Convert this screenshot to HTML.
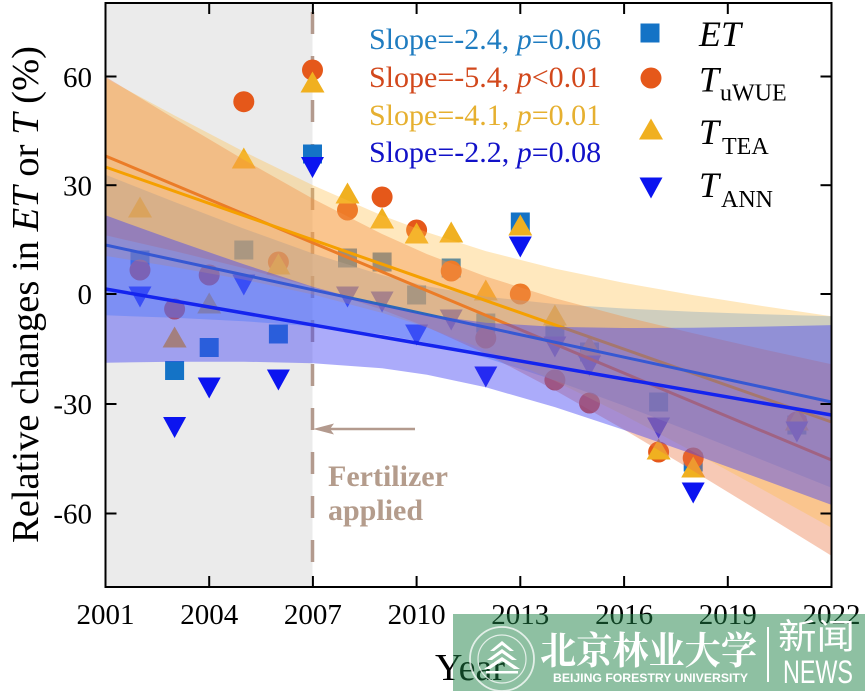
<!DOCTYPE html>
<html>
<head>
<meta charset="utf-8">
<style>
html,body{margin:0;padding:0;background:#ffffff;}
svg{display:block;}
.serif{font-family:"Liberation Serif","Noto Serif CJK SC",serif;}
</style>
</head>
<body>
<svg xmlns="http://www.w3.org/2000/svg" width="865" height="692" viewBox="0 0 865 692">
<defs>
<rect id="sq" x="-9.5" y="-9.5" width="19" height="19" fill="#1473c6"/>
<circle id="ci" r="10.5" fill="#e5581a"/>
<polygon id="tu" points="0,-10.5 -12,10.5 12,10.5" fill="#f0b020"/>
<polygon id="td" points="-11.5,-10.5 11.5,-10.5 0,10.5" fill="#0b14f0"/>
</defs>
<rect x="0" y="0" width="865" height="692" fill="#ffffff"/>
<!-- gray pre-fertilizer region -->
<rect x="105.5" y="3" width="207" height="584" fill="#ebebeb"/>
<!-- dashed line -->
<line x1="312.5" y1="12" x2="312.5" y2="562" stroke="#b39a8e" stroke-width="3.5" stroke-dasharray="22 22"/>
<!-- arrow -->
<line x1="415" y1="429" x2="325" y2="429" stroke="#b39a8e" stroke-width="2.5"/>
<polygon points="313,429 334,423.5 330,429 334,434.5" fill="#b39a8e"/>
<g class="serif">
<text x="328" y="486" font-size="30" font-weight="bold" fill="#b49c8c">Fertilizer</text>
<text x="328" y="520" font-size="30" font-weight="bold" fill="#b49c8c">applied</text>
</g>

<!-- markers: ET squares -->
<g>
<use href="#sq" x="140" y="260"/><use href="#sq" x="174.6" y="370.5"/><use href="#sq" x="209.2" y="347.5"/>
<use href="#sq" x="243.8" y="250"/><use href="#sq" x="278.4" y="334"/><use href="#sq" x="312.5" y="154"/>
<use href="#sq" x="347.5" y="258"/><use href="#sq" x="382.1" y="262"/><use href="#sq" x="416.6" y="295"/>
<use href="#sq" x="451.2" y="268"/><use href="#sq" x="485.8" y="323"/><use href="#sq" x="520.3" y="222"/>
<use href="#sq" x="554.9" y="330"/><use href="#sq" x="589.5" y="352"/><use href="#sq" x="658.6" y="402"/>
<use href="#sq" x="693.2" y="462"/><use href="#sq" x="796.9" y="425"/>
</g>
<!-- uWUE circles -->
<g>
<use href="#ci" x="140" y="270"/><use href="#ci" x="174.6" y="309"/><use href="#ci" x="209.2" y="275"/>
<use href="#ci" x="243.8" y="101.7"/><use href="#ci" x="278.4" y="262"/><use href="#ci" x="312.5" y="70"/>
<use href="#ci" x="347.5" y="210"/><use href="#ci" x="382.1" y="197"/><use href="#ci" x="416.6" y="230"/>
<use href="#ci" x="451.2" y="271"/><use href="#ci" x="485.8" y="338"/><use href="#ci" x="520.3" y="294"/>
<use href="#ci" x="554.9" y="380"/><use href="#ci" x="589.5" y="403"/><use href="#ci" x="658.6" y="452"/>
<use href="#ci" x="693.2" y="458"/><use href="#ci" x="796.9" y="422"/>
</g>
<!-- TEA triangles -->
<g>
<use href="#tu" x="140" y="207"/><use href="#tu" x="174.6" y="337"/><use href="#tu" x="209.2" y="303"/>
<use href="#tu" x="243.8" y="158"/><use href="#tu" x="278.4" y="264"/><use href="#tu" x="312.5" y="82"/>
<use href="#tu" x="347.5" y="193"/><use href="#tu" x="382.1" y="218"/><use href="#tu" x="416.6" y="233"/>
<use href="#tu" x="451.2" y="232"/><use href="#tu" x="485.8" y="290"/><use href="#tu" x="520.3" y="225"/>
<use href="#tu" x="554.9" y="315"/><use href="#tu" x="589.5" y="346"/><use href="#tu" x="658.6" y="449"/>
<use href="#tu" x="693.2" y="467"/><use href="#tu" x="796.9" y="420"/>
</g>
<!-- ANN down triangles -->
<g>
<use href="#td" x="140" y="297"/><use href="#td" x="174.6" y="427.5"/><use href="#td" x="209.2" y="388"/>
<use href="#td" x="243.8" y="285"/><use href="#td" x="278.4" y="380"/><use href="#td" x="312.5" y="167.5"/>
<use href="#td" x="347.5" y="297"/><use href="#td" x="382.1" y="302"/><use href="#td" x="416.6" y="335"/>
<use href="#td" x="451.2" y="320"/><use href="#td" x="485.8" y="377"/><use href="#td" x="520.3" y="247"/>
<use href="#td" x="554.9" y="347"/><use href="#td" x="589.5" y="366"/><use href="#td" x="658.6" y="428"/>
<use href="#td" x="693.2" y="493"/><use href="#td" x="796.9" y="432"/>
</g>

<!-- ET band -->
<polygon fill="#5da6ff" fill-opacity="0.45" points="105.5,174.7 174.6,202.0 243.8,228.6 312.9,253.5 382.1,275.1 427.0,286.2 485.8,296.6 554.9,304.0 624.1,308.5 693.2,311.7 762.3,314.2 831.5,316.2 831.5,487.8 762.3,460.0 693.2,432.5 624.1,405.7 554.9,380.4 485.8,357.8 427.0,342.8 382.1,334.5 312.9,326.3 243.8,321.2 174.6,317.8 105.5,315.3"/>
<!-- uWUE band + line -->
<polygon fill="#eb7846" fill-opacity="0.4" points="105.5,76.7 174.6,118.7 243.8,159.7 312.9,198.7 382.1,234.0 427.0,254.1 485.8,276.5 554.9,298.2 624.1,316.6 693.2,333.3 762.3,349.1 831.5,364.2 831.5,555.8 762.3,513.1 693.2,470.9 624.1,429.6 554.9,390.2 485.8,353.9 427.0,327.1 382.1,309.6 312.9,287.1 243.8,268.1 174.6,251.1 105.5,235.3"/>
<line x1="105.5" y1="156" x2="831.5" y2="460" stroke="#e05a18" stroke-width="3"/>
<!-- TEA band + line -->
<polygon fill="#ffbe46" fill-opacity="0.35" points="105.5,78.1 174.6,115.5 243.8,151.6 312.9,185.3 382.1,215.5 427.0,232.3 485.8,251.1 554.9,268.6 624.1,282.9 693.2,295.1 762.3,306.0 831.5,316.2 831.5,527.8 762.3,489.4 693.2,451.7 624.1,415.3 554.9,381.0 485.8,350.1 427.0,327.5 382.1,312.9 312.9,294.5 243.8,279.6 174.6,267.1 105.5,255.9"/>
<line x1="105.5" y1="167" x2="831.5" y2="422" stroke="#f5a000" stroke-width="3"/>
<!-- ET line -->
<line x1="105.5" y1="245" x2="831.5" y2="402" stroke="#2a68b8" stroke-width="3"/>
<!-- ANN band + line -->
<polygon fill="#4545f5" fill-opacity="0.45" points="105.5,215.3 174.6,240.3 243.8,264.3 312.9,286.7 382.1,305.7 427.0,314.9 485.8,322.7 554.9,326.9 624.1,328.0 693.2,327.7 762.3,326.6 831.5,325.1 831.5,504.9 762.3,479.4 693.2,454.3 624.1,430.0 554.9,407.1 485.8,387.3 427.0,374.7 382.1,368.3 312.9,363.3 243.8,361.7 174.6,361.7 105.5,362.7"/>
<line x1="105.5" y1="289" x2="831.5" y2="415" stroke="#1424ee" stroke-width="3.5"/>

<!-- frame -->
<rect x="105.5" y="3" width="726" height="584" fill="none" stroke="#000" stroke-width="2"/>
<!-- ticks -->
<g stroke="#000" stroke-width="2">
<line x1="209.2" y1="587" x2="209.2" y2="576"/><line x1="312.9" y1="587" x2="312.9" y2="576"/>
<line x1="416.6" y1="587" x2="416.6" y2="576"/><line x1="520.3" y1="587" x2="520.3" y2="576"/>
<line x1="624.1" y1="587" x2="624.1" y2="576"/><line x1="727.8" y1="587" x2="727.8" y2="576"/>
<line x1="209.2" y1="3" x2="209.2" y2="14"/><line x1="312.9" y1="3" x2="312.9" y2="14"/>
<line x1="416.6" y1="3" x2="416.6" y2="14"/><line x1="520.3" y1="3" x2="520.3" y2="14"/>
<line x1="624.1" y1="3" x2="624.1" y2="14"/><line x1="727.8" y1="3" x2="727.8" y2="14"/>
<line x1="105.5" y1="76.5" x2="116.5" y2="76.5"/><line x1="105.5" y1="185.2" x2="116.5" y2="185.2"/>
<line x1="105.5" y1="294" x2="116.5" y2="294"/><line x1="105.5" y1="404" x2="116.5" y2="404"/>
<line x1="105.5" y1="513.5" x2="116.5" y2="513.5"/>
<line x1="831.5" y1="76.5" x2="820.5" y2="76.5"/><line x1="831.5" y1="185.2" x2="820.5" y2="185.2"/>
<line x1="831.5" y1="294" x2="820.5" y2="294"/><line x1="831.5" y1="404" x2="820.5" y2="404"/>
<line x1="831.5" y1="513.5" x2="820.5" y2="513.5"/>
</g>
<g class="serif">
<!-- tick labels -->
<g font-size="29" fill="#000" text-anchor="middle">
<text x="105.5" y="624">2001</text><text x="209.2" y="624">2004</text><text x="312.9" y="624">2007</text>
<text x="416.6" y="624">2010</text><text x="520.3" y="624">2013</text><text x="624.1" y="624">2016</text>
<text x="727.8" y="624">2019</text><text x="831.5" y="624">2022</text>
</g>
<g font-size="29" fill="#000" text-anchor="end">
<text x="92" y="87">60</text><text x="92" y="195.5">30</text><text x="92" y="304">0</text>
<text x="92" y="414">-30</text><text x="92" y="523.5">-60</text>
</g>
<!-- axis titles -->
<text transform="translate(38,543) rotate(-90)" font-size="38.5" fill="#000" textLength="497" lengthAdjust="spacingAndGlyphs">Relative changes in <tspan font-style="italic">ET</tspan> or <tspan font-style="italic">T</tspan> (%)</text>
<text x="470" y="680" font-size="38" fill="#000" text-anchor="middle">Year</text>

<!-- slope annotations -->
<g font-size="30">
<text x="369" y="49" fill="#1f7cc0">Slope=-2.4, <tspan font-style="italic">p</tspan>=0.06</text>
<text x="369" y="87" fill="#d2481c">Slope=-5.4, <tspan font-style="italic">p</tspan>&lt;0.01</text>
<text x="369" y="125" fill="#e6b030">Slope=-4.1, <tspan font-style="italic">p</tspan>=0.01</text>
<text x="369" y="162" fill="#1212c8">Slope=-2.2, <tspan font-style="italic">p</tspan>=0.08</text>
</g>
</g>

<!-- legend -->
<use href="#sq" x="650" y="33"/>
<use href="#ci" x="651" y="78"/>
<use href="#tu" x="651" y="129"/>
<use href="#td" x="651" y="188"/>
<g fill="#000" class="serif">
<text x="699" y="46" font-size="36" font-style="italic">ET</text>
<text x="699" y="91.5" font-size="36" font-style="italic">T</text><text x="720" y="100.7" font-size="24">uWUE</text>
<text x="699" y="144" font-size="36" font-style="italic">T</text><text x="722" y="154" font-size="24">TEA</text>
<text x="699" y="197" font-size="36" font-style="italic">T</text><text x="721" y="207" font-size="24">ANN</text>
</g>

<!-- watermark banner -->
<rect x="453" y="614" width="412" height="77" fill="rgb(30,130,70)" fill-opacity="0.5"/>
<g fill="none" stroke="#ffffff" stroke-opacity="0.75">
<circle cx="502" cy="659" r="32" stroke-width="1.8"/>
<circle cx="502" cy="659" r="24" stroke-width="1.2"/>
</g>
<g fill="#ffffff">
<polygon points="502,641 490,651 494,651 502,645 510,651 514,651"/>
<polygon points="502,649 487,660 492,660 502,653 512,660 517,660"/>
<polygon points="502,657 484,669 490,669 502,661 514,669 520,669"/>
<rect x="486" y="671" width="32" height="2.5"/>
</g>
<text x="540" y="664" font-size="38" font-weight="bold" fill="#ffffff" style="font-family:'Noto Serif CJK SC','Noto Sans CJK SC',serif" textLength="217" lengthAdjust="spacingAndGlyphs">北京林业大学</text>
<text x="553" y="682" font-size="12" font-weight="bold" fill="#ffffff" style="font-family:'Liberation Sans',sans-serif" textLength="195" lengthAdjust="spacingAndGlyphs">BEIJING FORESTRY UNIVERSITY</text>
<line x1="768" y1="627" x2="768" y2="682" stroke="#ffffff" stroke-width="2"/>
<text x="778" y="649" font-size="35" fill="#ffffff" style="font-family:'Noto Sans CJK SC',sans-serif" textLength="77" lengthAdjust="spacingAndGlyphs">新闻</text>
<text x="783" y="683" font-size="32" fill="#ffffff" style="font-family:'Liberation Sans',sans-serif" textLength="70" lengthAdjust="spacingAndGlyphs">NEWS</text>
</svg>
</body>
</html>
